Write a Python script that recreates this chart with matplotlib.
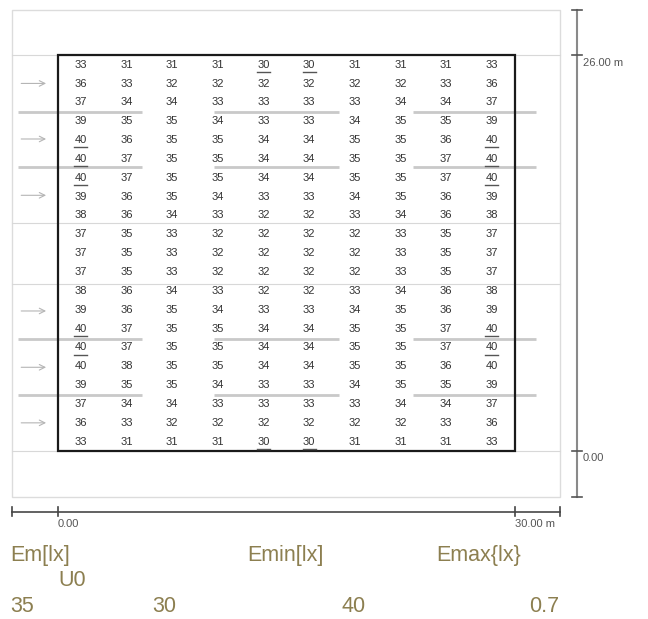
#illuminance grid plot (lux values on a 30 x 26 m area)
import matplotlib.pyplot as plt
from matplotlib.patches import Rectangle

#grid values in lux, 21 rows (top to bottom) x 10 columns
lux = [
    [33, 31, 31, 31, 30, 30, 31, 31, 31, 33],
    [36, 33, 32, 32, 32, 32, 32, 32, 33, 36],
    [37, 34, 34, 33, 33, 33, 33, 34, 34, 37],
    [39, 35, 35, 34, 33, 33, 34, 35, 35, 39],
    [40, 36, 35, 35, 34, 34, 35, 35, 36, 40],
    [40, 37, 35, 35, 34, 34, 35, 35, 37, 40],
    [40, 37, 35, 35, 34, 34, 35, 35, 37, 40],
    [39, 36, 35, 34, 33, 33, 34, 35, 36, 39],
    [38, 36, 34, 33, 32, 32, 33, 34, 36, 38],
    [37, 35, 33, 32, 32, 32, 32, 33, 35, 37],
    [37, 35, 33, 32, 32, 32, 32, 33, 35, 37],
    [37, 35, 33, 32, 32, 32, 32, 33, 35, 37],
    [38, 36, 34, 33, 32, 32, 33, 34, 36, 38],
    [39, 36, 35, 34, 33, 33, 34, 35, 36, 39],
    [40, 37, 35, 35, 34, 34, 35, 35, 37, 40],
    [40, 37, 35, 35, 34, 34, 35, 35, 37, 40],
    [40, 38, 35, 35, 34, 34, 35, 35, 36, 40],
    [39, 35, 35, 34, 33, 33, 34, 35, 35, 39],
    [37, 34, 34, 33, 33, 33, 33, 34, 34, 37],
    [36, 33, 32, 32, 32, 32, 32, 32, 33, 36],
    [33, 31, 31, 31, 30, 30, 31, 31, 31, 33],
]
#rows where the max/min values are underlined
underlined_rows = [0, 4, 5, 6, 14, 15, 20]

#room size in m
room_w = 30.0
room_h = 26.0

#luminaire rows (y in m) and their segments (x in m)
lum_rows = [22.3, 18.65, 7.35, 3.7]
lum_segments = [(-2.63, 5.52), (10.24, 18.45), (23.3, 31.4)]
#arrows on the left side (y in m)
arrow_rows = [24.15, 20.5, 16.8, 9.2, 5.5, 1.85]
#thin reference lines (y in m)
ref_lines = [26.0, 15.0, 11.0, 0.0]

#summary table
stat_labels = ["Em[lx]", "Emin[lx]", "Emax{lx}", "U0"]
stat_values = ["35", "30", "40", "0.7"]

plt.rcParams['font.family'] = ['Liberation Sans', 'DejaVu Sans']

W, H = 648, 619
s = 15.22  #pixels per metre
fig = plt.figure(figsize=(W / 100, H / 100), dpi=100)
ax = fig.add_axes([0, 0, 1, 1])
ax.set_xlim(-58 / s, (W - 58) / s)
ax.set_ylim((451 - H) / s, 451 / s)
ax.axis("off")

#outer boundary
ax.add_patch(Rectangle((-3, -3), 36, 32, fill=False, ec="#dcdcdc", lw=1.0))
for y in ref_lines:
    ax.plot([-3, 33], [y, y], color="#d8d8d8", lw=0.8)

#luminaire lines
for y in lum_rows:
    for x0, x1 in lum_segments:
        ax.plot([x0, x1], [y, y], color="#c9c9c9", lw=2.0, solid_capstyle="butt")

#arrows
for y in arrow_rows:
    ax.annotate("", xy=(-0.6, y), xytext=(-2.6, y),
                arrowprops=dict(arrowstyle="->", color="#b5b5b5", lw=0.8))

#room outline
ax.add_patch(Rectangle((0, 0), room_w, room_h, fill=False, ec="#1a1a1a", lw=1.6, zorder=5))

#grid values
n_rows = len(lux)
n_cols = len(lux[0])
dx = room_w / n_cols
dy = room_h / n_rows
vmax = max(max(r) for r in lux)
vmin = min(min(r) for r in lux)
for j, row in enumerate(lux):
    yc = room_h - (j + 0.5) * dy
    for i, v in enumerate(row):
        xc = (i + 0.5) * dx
        ax.text(xc, yc, str(v), ha="center", va="center", fontsize=8, color="#333333", zorder=6)
        if j in underlined_rows and v in (vmax, vmin):
            ax.plot([xc - 0.42, xc + 0.42], [yc - 0.47, yc - 0.47], color="#555555", lw=1.0, zorder=6)

#vertical dimension line
xd = 34.1
ax.plot([xd, xd], [-3, 29], color="#8a8a8a", lw=1.5)
for y in [-3, 0, room_h, 29]:
    ax.plot([xd - 0.3, xd + 0.3], [y, y], color="#555555", lw=1.2)
ax.text(xd + 0.4, room_h - 0.15, "26.00 m", ha="left", va="top", fontsize=8, color="#555555")
ax.text(xd + 0.4, -0.15, "0.00", ha="left", va="top", fontsize=8, color="#555555")

#horizontal dimension line
yd = -4.0
ax.plot([-3, 33], [yd, yd], color="#555555", lw=1.3)
for x in [-3, 0, room_w, 33]:
    ax.plot([x, x], [yd - 0.3, yd + 0.3], color="#444444", lw=1.2)
ax.text(0, yd - 0.5, "0.00", ha="left", va="top", fontsize=8, color="#555555")
ax.text(room_w, yd - 0.5, "30.00 m", ha="left", va="top", fontsize=8, color="#555555")

#summary text below the plan
olive = "#8c7f50"
label_pos = [(10, 555), (247, 555), (436, 555), (58, 580)]
value_pos = [(10, 606), (152, 606), (341, 606), (529, 606)]
for t, (px, py) in zip(stat_labels, label_pos):
    fig.text(px / W, 1 - py / H, t, ha="left", va="center", fontsize=15.5, color=olive)
for t, (px, py) in zip(stat_values, value_pos):
    fig.text(px / W, 1 - py / H, t, ha="left", va="center", fontsize=15.5, color=olive)

plt.savefig("out.png", dpi=100)
plt.close()
